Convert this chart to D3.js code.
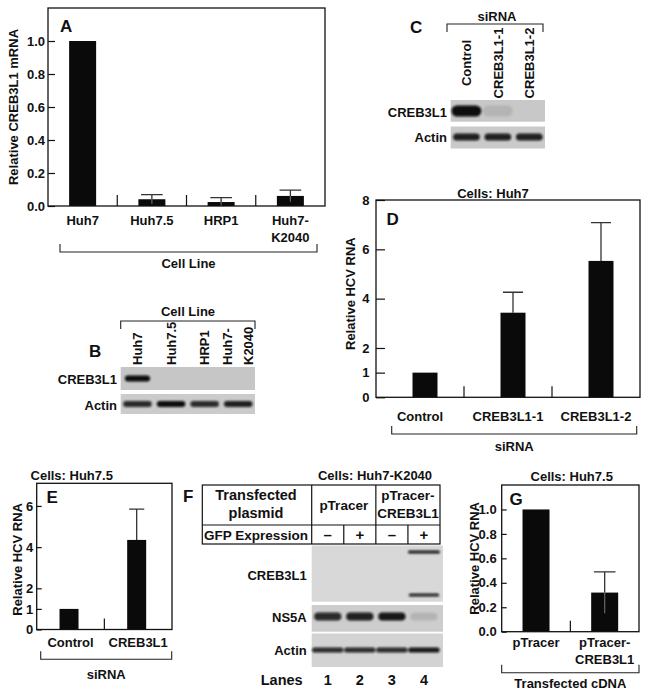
<!DOCTYPE html>
<html>
<head>
<meta charset="UTF-8">
<title>CREB3L1 figure</title>
<script src="https://d3js.org/d3.v7.min.js"></script>
<style>
  body { margin: 0; background: #fff; }
  svg text { font-family: "Liberation Sans", Arial, sans-serif; font-weight: bold; fill: #111; }
</style>
</head>
<body>
<div id="chart"></div>
<script>
// ---- data ----
// A: CREB3L1 mRNA per cell line
const cellLines = [["Huh7"], ["Huh7.5"], ["HRP1"], ["Huh7-", "K2040"]];
const creb3l1Mrna = [1.0, 0.041, 0.024, 0.061];
const creb3l1MrnaErr = [0, 0.028, 0.027, 0.035];
const ticksA = [0, 0.2, 0.4, 0.6, 0.8, 1.0];

// B: western blot, cell lines (band intensity 0..1)
const creb3l1BlotB = [1, 0, 0, 0];
const actinBlotB = [0.85, 1, 0.85, 0.9];

// C/D: siRNA knockdown in Huh7
const sirnaHuh7 = ["Control", "CREB3L1-1", "CREB3L1-2"];
const creb3l1BlotC = [1, 0.1, 0];
const actinBlotC = [0.9, 0.9, 0.9];
const hcvHuh7 = [1.0, 3.43, 5.53];
const hcvHuh7Err = [0, 0.83, 1.55];
const ticksD = [0, 1, 2, 4, 6, 8];

// E: siRNA in Huh7.5
const sirnaHuh75 = ["Control", "CREB3L1"];
const hcvHuh75 = [1.0, 4.35];
const hcvHuh75Err = [0, 1.5];
const ticksE = [0, 1, 2, 4, 6];

// F: transfection in Huh7-K2040
const laneNums = ["1", "2", "3", "4"];
const plasmids = [["pTracer"], ["pTracer-", "CREB3L1"]];
const gfpExpr = ["-", "+", "-", "+"];
const creb3l1UpperF = [0, 0, 0, 0.95];
const creb3l1LowerF = [0, 0, 0, 0.9];
const ns5aBlotF = [0.85, 0.9, 0.95, 0.12];
const actinBlotF = [0.85, 0.85, 0.85, 0.95];

// G: cDNA in Huh7.5
const cdnas = [["pTracer"], ["pTracer-", "CREB3L1"]];
const hcvCdna = [1.0, 0.32];
const hcvCdnaErr = [0, 0.17];
const ticksG = [0, 0.2, 0.4, 0.6, 0.8, 1.0];

// ---- svg ----
const svg = d3.select("#chart").append("svg")
    .attr("width", 646).attr("height", 698);

svg.append("defs").append("filter").attr("id", "blur")
    .attr("x", "-30%").attr("y", "-150%").attr("width", "160%").attr("height", "400%")
  .append("feGaussianBlur").attr("stdDeviation", 1.2);

function txt(x, y, s, size, anchor) {
  return svg.append("text").attr("x", x).attr("y", y)
      .attr("font-size", size).attr("text-anchor", anchor || "middle").text(s);
}

function bracket(x0, x1, y, dir, label, labelY) {
  svg.append("path")
      .attr("d", `M${x0},${y + dir * 8}V${y}H${x1}V${y + dir * 8}`)
      .attr("fill", "none").attr("stroke", "#222").attr("stroke-width", 1.1);
  if (label) txt((x0 + x1) / 2, labelY, label, 13);
}

function barPanel(p) {
  const keys = p.cats.map(c => [].concat(c).join(" "));
  const x = d3.scaleBand().domain(keys).range([p.x0, p.x1]);
  const y = d3.scaleLinear().domain([0, p.ymax]).range([p.y1, p.y0]);
  const g = svg.append("g");

  g.append("g").attr("transform", `translate(${p.x0},0)`)
      .call(d3.axisLeft(y).tickValues(p.ticks).tickFormat(p.fmt)
          .tickSizeInner(-p.tick).tickSizeOuter(0).tickPadding(p.pad))
      .attr("font-size", 13).attr("font-family", null)
      .call(a => a.select(".domain").remove())
      .call(a => a.selectAll("line").attr("stroke", "#111").attr("stroke-width", 1.2));

  // bars
  g.selectAll("rect.bar").data(p.vals).join("rect").attr("class", "bar")
      .attr("x", (d, i) => x(keys[i]) + x.bandwidth() / 2 - p.barW / 2 + (p.shift || 0))
      .attr("width", p.barW)
      .attr("y", d => y(d)).attr("height", d => y(0) - y(d))
      .attr("fill", "#0a0a0a");

  // error bars
  const err = p.vals.map((v, i) => ({v, e: p.errs[i], cx: x(keys[i]) + x.bandwidth() / 2 + (p.shift || 0)}))
      .filter(d => d.e > 0);
  const cap = p.barW * 0.8;
  if (p.lowErr) {
    g.selectAll("path.errLo").data(err).join("path").attr("class", "errLo")
        .attr("d", d => `M${d.cx},${y(d.v)}V${y(Math.max(0, d.v - d.e))}`)
        .attr("stroke", "#666").attr("stroke-width", 1.2);
  }
  g.selectAll("path.errHi").data(err).join("path").attr("class", "errHi")
      .attr("d", d => `M${d.cx},${y(d.v)}V${y(d.v + d.e)}M${d.cx - cap / 2},${y(d.v + d.e)}H${d.cx + cap / 2}`)
      .attr("fill", "none").attr("stroke", "#333").attr("stroke-width", 1.3);

  // frame
  g.append("rect").attr("x", p.x0).attr("y", p.y0)
      .attr("width", p.x1 - p.x0).attr("height", p.y1 - p.y0)
      .attr("fill", "none").attr("stroke", "#111").attr("stroke-width", 1.3);

  // separators between groups
  g.selectAll("path.sep").data(keys.slice(1)).join("path").attr("class", "sep")
      .attr("d", k => `M${x(k)},${p.y1}V${p.y1 - 11}`)
      .attr("stroke", "#111").attr("stroke-width", 1.2);

  // category labels
  p.cats.forEach((c, i) => {
    [].concat(c).forEach((line, j) => {
      txt(x(keys[i]) + x.bandwidth() / 2, p.y1 + p.catDy + j * 17, line, 13);
    });
  });

  // y label
  svg.append("text").attr("transform", `translate(${p.ylx},${(p.y0 + p.y1) / 2 + (p.yly || 0)}) rotate(-90)`)
      .attr("font-size", 13).attr("text-anchor", "middle").text(p.ylabel);

  txt(p.lx, p.ly, p.letter, 17, "start");
  if (p.title) txt(p.tx, p.ty, p.title, 13);
  bracket(p.bx0, p.bx1, p.by, -1, p.blabel, p.bly);
  return x;
}

function blot(lanes, box, bg, rows) {
  svg.append("rect").attr("x", box.x0).attr("y", box.y0)
      .attr("width", box.x1 - box.x0).attr("height", box.y1 - box.y0).attr("fill", bg);
  rows.forEach(r => {
    const data = r.vals.map((v, i) => ({v, k: lanes.domain()[i]})).filter(d => d.v > 0);
    svg.append("g").attr("filter", "url(#blur)")
      .selectAll("rect").data(data).join("rect")
        .attr("x", d => lanes(d.k) + lanes.bandwidth() * (1 - r.w) / 2)
        .attr("width", lanes.bandwidth() * r.w)
        .attr("y", r.cy - r.h / 2).attr("height", r.h).attr("rx", r.h / 2)
        .attr("fill", "#0d0d0d").attr("fill-opacity", d => d.v);
  });
}

// ---- A ----
barPanel({
  cats: cellLines, vals: creb3l1Mrna, errs: creb3l1MrnaErr, lowErr: true,
  x0: 48, x1: 325, y0: 8, y1: 206, ymax: 1.2, ticks: ticksA, fmt: d3.format(".1f"),
  tick: 7, pad: 3, barW: 27, catDy: 19,
  ylabel: "Relative CREB3L1 mRNA", ylx: 18, yly: 0,
  letter: "A", lx: 60, ly: 32,
  bx0: 60, bx1: 317, by: 252, blabel: "Cell Line", bly: 268
});

// ---- B ----
const lanesB = d3.scaleBand().domain(cellLines.map(c => c.join(" "))).range([120.7, 255]);
txt(188, 316, "Cell Line", 13);
bracket(120.7, 255, 321, 1);
txt(89, 357, "B", 17, "start");
cellLines.forEach((c, i) => {
  const cx = lanesB(lanesB.domain()[i]) + lanesB.bandwidth() / 2;
  c.forEach((line, j) => {
    const off = (j - (c.length - 1) / 2) * 21;
    svg.append("text").attr("transform", `translate(${cx + off + 4.7},365) rotate(-90)`)
        .attr("font-size", 13).attr("text-anchor", "start").text(line);
  });
});
blot(lanesB, {x0: 120.7, x1: 255, y0: 367, y1: 390}, "#c6c6c6",
  [{vals: creb3l1BlotB, cy: 378.5, h: 6, w: 0.75}]);
blot(lanesB, {x0: 120.7, x1: 255, y0: 394, y1: 414}, "#cbcbcb",
  [{vals: actinBlotB, cy: 404, h: 6, w: 0.85}]);
txt(117, 384, "CREB3L1", 13, "end");
txt(117, 410, "Actin", 13, "end");

// ---- C ----
const lanesC = d3.scaleBand().domain(sirnaHuh7).range([450.7, 545]);
txt(497, 21, "siRNA", 13);
bracket(447, 543, 24, 1);
txt(410, 33, "C", 17, "start");
sirnaHuh7.forEach(s => {
  const cx = lanesC(s) + lanesC.bandwidth() / 2;
  svg.append("text").attr("transform", `translate(${cx + 4.7},63) rotate(-90)`)
      .attr("font-size", 13).attr("text-anchor", "middle").text(s);
});
blot(lanesC, {x0: 450.7, x1: 545, y0: 100, y1: 121.7}, "#c8c8c8",
  [{vals: creb3l1BlotC, cy: 111, h: 11, w: 0.95}]);
blot(lanesC, {x0: 450.7, x1: 545, y0: 126.5, y1: 148.5}, "#cacaca",
  [{vals: actinBlotC, cy: 137, h: 7, w: 0.85}]);
txt(447, 116.5, "CREB3L1", 13, "end");
txt(447, 142, "Actin", 13, "end");

// ---- D ----
barPanel({
  cats: sirnaHuh7, vals: hcvHuh7, errs: hcvHuh7Err,
  x0: 376, x1: 640, y0: 200, y1: 397.3, ymax: 8, ticks: ticksD, fmt: d3.format("d"),
  tick: 9, pad: 6.5, barW: 25, shift: 5, catDy: 24,
  ylabel: "Relative HCV RNA", ylx: 355, yly: -5,
  letter: "D", lx: 386.5, ly: 225, title: "Cells: Huh7", tx: 493, ty: 197.5,
  bx0: 391.7, bx1: 636.7, by: 434, blabel: "siRNA", bly: 451
});

// ---- E ----
barPanel({
  cats: sirnaHuh75, vals: hcvHuh75, errs: hcvHuh75Err,
  x0: 36.7, x1: 172, y0: 483.3, y1: 629.5, ymax: 7.1, ticks: ticksE, fmt: d3.format("d"),
  tick: 5, pad: 3.5, barW: 19, shift: -1.5, catDy: 17.5,
  ylabel: "Relative HCV RNA", ylx: 21.5, yly: 3,
  letter: "E", lx: 46.5, ly: 503, title: "Cells: Huh7.5", tx: 71.7, ty: 480,
  bx0: 40.7, bx1: 171.7, by: 659.3, blabel: "siRNA", bly: 678.5
});

// ---- F ----
const lanesF = d3.scaleBand().domain(laneNums).range([311.7, 440]);
const lc = k => lanesF(k) + lanesF.bandwidth() / 2;
txt(375, 480, "Cells: Huh7-K2040", 13);
txt(183, 502, "F", 17, "start");
const tbl = svg.append("g").attr("fill", "none").attr("stroke", "#111").attr("stroke-width", 1.2);
tbl.append("rect").attr("x", 202.3).attr("y", 485).attr("width", 440 - 202.3).attr("height", 544 - 485);
tbl.append("path").attr("d", "M202.3,525H440");
tbl.selectAll("path.v").data(laneNums).join("path").attr("class", "v")
    .attr("d", (k, i) => `M${lanesF(k)},${i % 2 === 0 ? 485 : 525}V544`);
txt(256, 500, "Transfected", 14.5);
txt(256, 517.5, "plasmid", 14.5);
plasmids.forEach((pl, i) => {
  const cx = (lc(laneNums[2 * i]) + lc(laneNums[2 * i + 1])) / 2;
  if (pl.length === 1) txt(cx, 509.5, pl[0], 13.5);
  else pl.forEach((line, j) => txt(cx, 500 + j * 17.5, line, 13.5));
});
txt(256, 540, "GFP Expression", 13.5);
gfpExpr.forEach((s, i) => txt(lc(laneNums[i]), 540, s === "-" ? "\u2013" : "+", 15));
blot(lanesF, {x0: 311.7, x1: 443, y0: 545.5, y1: 601.7}, "#d8d8d8", [
  {vals: creb3l1UpperF, cy: 552, h: 3, w: 1.0},
  {vals: creb3l1LowerF, cy: 595, h: 3, w: 0.95}
]);
blot(lanesF, {x0: 311.7, x1: 443, y0: 605, y1: 631.7}, "#cdcdcd",
  [{vals: ns5aBlotF, cy: 616.5, h: 8, w: 0.85}]);
blot(lanesF, {x0: 311.7, x1: 443, y0: 633.5, y1: 667}, "#d3d3d3",
  [{vals: actinBlotF, cy: 650, h: 5, w: 0.98}]);
txt(306.7, 580, "CREB3L1", 13, "end");
txt(306.7, 621.5, "NS5A", 13, "end");
txt(306.7, 655, "Actin", 13, "end");
txt(281.7, 685, "Lanes", 14.5);
laneNums.forEach(k => txt(lc(k), 685, k, 14.5));

// ---- G ----
barPanel({
  cats: cdnas, vals: hcvCdna, errs: hcvCdnaErr, lowErr: true,
  x0: 501.7, x1: 639, y0: 485, y1: 631.7, ymax: 1.2, ticks: ticksG, fmt: d3.format(".1f"),
  tick: 5, pad: 5, barW: 27, catDy: 15,
  ylabel: "Relative HCV RNA", ylx: 479, yly: 0,
  letter: "G", lx: 509.5, ly: 505, title: "Cells: Huh7.5", tx: 571.7, ty: 481,
  bx0: 501.7, bx1: 639, by: 672.7, blabel: "Transfected cDNA", bly: 688
});
</script>
</body>
</html>
